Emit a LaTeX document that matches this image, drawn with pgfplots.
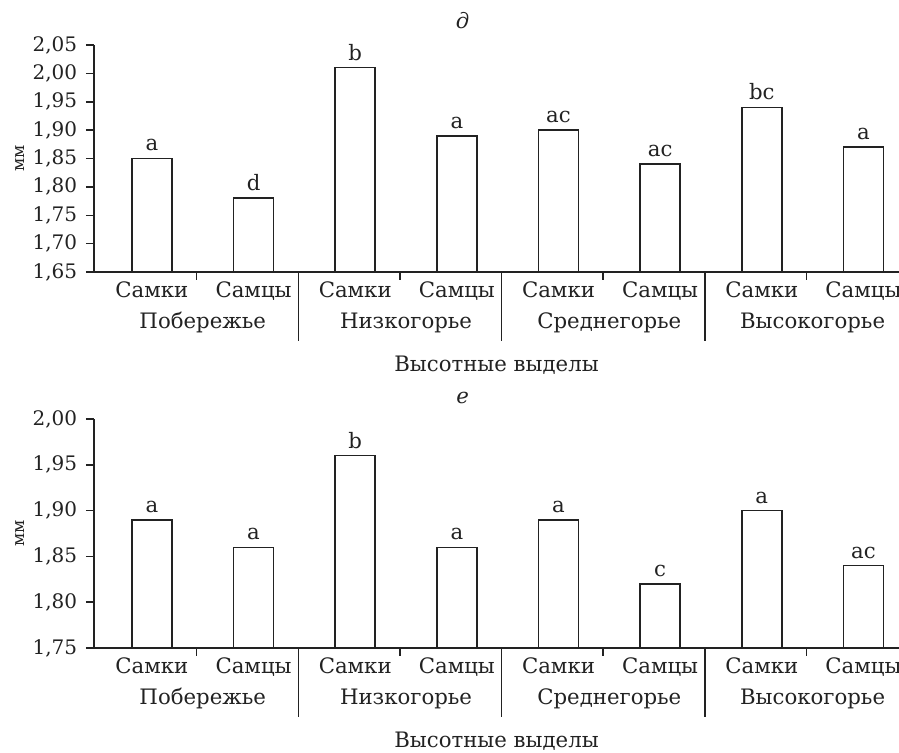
\documentclass[border=0pt]{standalone}
\usepackage{fontspec}
\setmainfont{DejaVu Serif}
\usepackage{pgfplots}
\usepackage{pgfplotstable}
\pgfplotsset{compat=1.18}
\definecolor{ink}{HTML}{222222}

\pgfplotstableread{
x y lab
0 1.85 a
1 1.78 d
2 2.01 b
3 1.89 a
4 1.90 ac
5 1.84 ac
6 1.94 bc
7 1.87 a
}\dataD
\pgfplotstableread{
x y lab
0 1.89 a
1 1.86 a
2 1.96 b
3 1.86 a
4 1.89 a
5 1.82 c
6 1.90 a
7 1.84 ac
}\dataE

\newcommand{\fs}{\fontsize{8}{9.6}\selectfont}
\newcommand{\ft}{\fontsize{8.5}{10}\selectfont}
\pgfplotsset{mystyle/.style={
  scale only axis, width=322pt,
  xmin=-0.57, xmax=7.35,
  axis x line=bottom, axis y line=left,
  axis line style={-, draw=ink, line width=0.6pt},
  xtick={0,...,7},
  xticklabels={Самки,Самцы,Самки,Самцы,Самки,Самцы,Самки,Самцы},
  major x tick style={draw=none},
  tick align=outside, major tick length=3.2pt,
  y tick style={draw=ink, line width=0.6pt},
  yticklabel style={/pgf/number format/.cd, use comma, fixed, fixed zerofill, precision=2},
  /pgf/number format/assume math mode=true,
  ticklabel style={font=\fs, text=ink},
  xticklabel style={font=\ft, anchor=base, yshift=-7.1pt},
  ybar, bar width=16pt,
  nodes near coords, point meta=explicit symbolic,
  every node near coord/.append style={font=\ft, text=ink, inner sep=2.6pt},
  clip=false,
}}

\newcommand{\decor}[1]{%
  \draw[ink, line width=0.6pt] (axis cs:0.44,#1) -- ([yshift=-3.2pt]axis cs:0.44,#1);
  \draw[ink, line width=0.6pt] (axis cs:2.44,#1) -- ([yshift=-3.2pt]axis cs:2.44,#1);
  \draw[ink, line width=0.6pt] (axis cs:4.44,#1) -- ([yshift=-3.2pt]axis cs:4.44,#1);
  \draw[ink, line width=0.6pt] (axis cs:6.44,#1) -- ([yshift=-3.2pt]axis cs:6.44,#1);
  \draw[ink, line width=0.6pt] (axis cs:1.44,#1) -- ([yshift=-27.6pt]axis cs:1.44,#1);
  \draw[ink, line width=0.6pt] (axis cs:3.44,#1) -- ([yshift=-27.6pt]axis cs:3.44,#1);
  \draw[ink, line width=0.6pt] (axis cs:5.44,#1) -- ([yshift=-27.6pt]axis cs:5.44,#1);
  \node[font=\ft, text=ink, anchor=base] at ([yshift=-22.4pt]axis cs:0.5,#1) {Побережье};
  \node[font=\ft, text=ink, anchor=base] at ([yshift=-22.4pt]axis cs:2.5,#1) {Низкогорье};
  \node[font=\ft, text=ink, anchor=base] at ([yshift=-22.4pt]axis cs:4.5,#1) {Среднегорье};
  \node[font=\ft, text=ink, anchor=base] at ([yshift=-22.4pt]axis cs:6.5,#1) {Высокогорье};
  \node[font=\ft, text=ink, anchor=base] at ([yshift=-39.6pt]rel axis cs:0.5,0) {Высотные выделы};
  \node[font=\fontsize{6.8}{8}\selectfont, text=ink, rotate=90] at ([xshift=-29.6pt]rel axis cs:0,0.5) {мм};
}

\begin{document}
\begin{tikzpicture}
\begin{axis}[mystyle, height=90.8pt, at={(0pt,0pt)}, anchor=south west,
  ymin=1.65, ymax=2.05, ytick={1.65,1.70,...,2.06}]
\addplot[draw=ink, fill=white, line width=0.6pt] table[x=x, y=y, meta=lab] {\dataD};
\decor{1.65}
\node[font=\ft\itshape, text=ink, anchor=base] at ([yshift=6.8pt]rel axis cs:0.458,1) {д};
\end{axis}
\begin{axis}[mystyle, height=91.6pt, at={(0pt,-150.4pt)}, anchor=south west,
  ymin=1.75, ymax=2.00, ytick={1.75,1.80,...,2.01}]
\addplot[draw=ink, fill=white, line width=0.6pt] table[x=x, y=y, meta=lab] {\dataE};
\decor{1.75}
\node[font=\ft\itshape, text=ink, anchor=base] at ([yshift=6.4pt]rel axis cs:0.458,1) {е};
\end{axis}
\pgfresetboundingbox
\path[use as bounding box] (-37.6pt,-192pt) rectangle (322pt,108.8pt);
\end{tikzpicture}
\end{document}
